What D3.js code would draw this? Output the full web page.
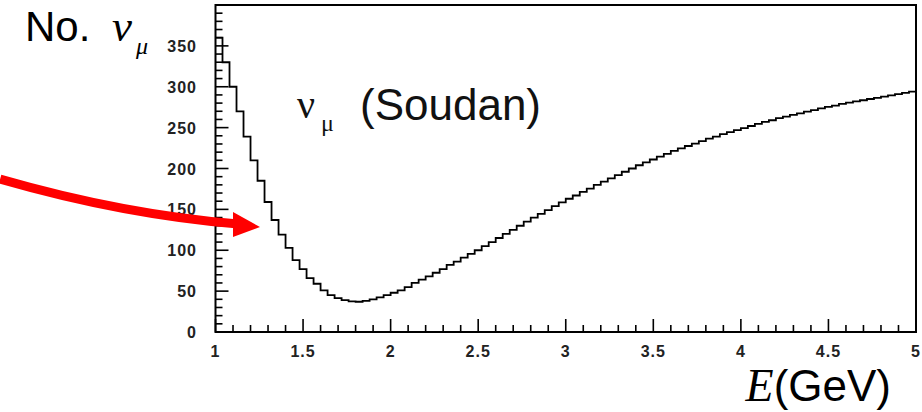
<!DOCTYPE html>
<html><head><meta charset="utf-8">
<script src="https://cdn.jsdelivr.net/npm/d3@7"></script>
<style>html,body{margin:0;padding:0;background:#fff;} svg{display:block}</style>
</head><body><svg id="c" width="922" height="412"></svg>
<script>
// ---- data ----
const binLow = 1.0;
const binWidth = 0.04;
const counts = [
  360,330,300,270,239,210,185,159,137,119,
  103,88,77,66,59,51,45,41.5,39,37.5,
  37,38,40,42.4,45,48,51,55,60,64,
  68,72.5,77,82,86,91,95.5,100,105,110,
  115,120,125,130,135,140,144.5,149,154,158.5,
  163,167,171.5,175.5,180,184,188,192,196,200,
  204,207.5,211,214.5,218,221.5,224.5,227.5,230.5,233.5,
  236.5,239,242,244.5,247,249.5,252,254.5,257,259,
  261.5,263.5,265.5,267.5,269.5,271.5,273.5,275.5,277,279,
  280.5,282,283.5,285,286.5,288,289.5,291,292.5,294
];
const xTickValues = [1,1.5,2,2.5,3,3.5,4,4.5,5];
const xTickLabels = ["1","1.5","2","2.5","3","3.5","4","4.5","5"];
const yTickValues = [0,50,100,150,200,250,300,350];
const yTickLabels = ["0","50","100","150","200","250","300","350"];
// annotation arrow in data units (E, count)
const arrowCurve = [[-0.23,187],[0.11,166],[0.57,142],[1.13,132]];
const arrowHead = [[1.254,128.4],[1.10,146.8],[1.10,116.2]];

// ---- layout ----
const W = 922, H = 412;
const plot = {left:215.5, right:916, top:5, bottom:332};
const x = d3.scaleLinear().domain([1,5]).range([plot.left, plot.right]);
const y = d3.scaleLinear().domain([0,400]).range([plot.bottom, plot.top]);

const svg = d3.select("#c");
svg.append("rect").attr("width",W).attr("height",H).attr("fill","#fff");

// minor + major ticks (inward)
const g = svg.append("g");
const xMinor = d3.range(10,51).map(d=>d/10);
g.selectAll("line.xt").data(xMinor).join("line")
  .attr("x1",d=>x(d)).attr("x2",d=>x(d))
  .attr("y1",plot.bottom)
  .attr("y2",d=> plot.bottom - (Math.abs(d*2-Math.round(d*2))<1e-6 ? 13 : 7))
  .attr("stroke","#000").attr("stroke-width",1.6);
const yMinor = d3.range(0,401,10);
g.selectAll("line.yt").data(yMinor).join("line")
  .attr("y1",d=>y(d)).attr("y2",d=>y(d))
  .attr("x1",plot.left)
  .attr("x2",d=> plot.left + (d%50===0 ? 13 : 7))
  .attr("stroke","#000").attr("stroke-width",1.6);

// tick labels
const lab = {"font-family":"Liberation Sans, Arial, sans-serif","font-weight":"bold","font-size":"16px","fill":"#222"};
const xl = g.selectAll("text.xl").data(xTickValues).join("text")
  .attr("x",d=>x(d)).attr("y",357).attr("text-anchor","middle")
  .style("letter-spacing","1px")
  .text((d,i)=>xTickLabels[i]);
Object.entries(lab).forEach(([k,v])=>xl.attr(k,v));
const yl = g.selectAll("text.yl").data(yTickValues).join("text")
  .attr("x",197).attr("y",d=>y(d)+6).attr("text-anchor","end")
  .style("letter-spacing","1px")
  .text((d,i)=>yTickLabels[i]);
Object.entries(lab).forEach(([k,v])=>yl.attr(k,v));

// histogram
const pts = [];
counts.forEach((c,i)=>{
  const e0 = binLow + i*binWidth, e1 = binLow + (i+1)*binWidth;
  pts.push([e0,c]); pts.push([e1,c]);
});
const line = d3.line().x(d=>x(d[0])).y(d=>y(d[1]));
svg.append("path").attr("d",line(pts)).attr("fill","none")
  .attr("stroke","#000").attr("stroke-width",1.8).attr("stroke-linejoin","miter");

// frame
svg.append("rect").attr("x",plot.left).attr("y",plot.top)
  .attr("width",plot.right-plot.left).attr("height",plot.bottom-plot.top)
  .attr("fill","none").attr("stroke","#000").attr("stroke-width",2);

// red arrow annotation
const p = arrowCurve.map(d=>[x(d[0]),y(d[1])]);
svg.append("path")
  .attr("d",`M${p[0][0]},${p[0][1]} C${p[1][0]},${p[1][1]} ${p[2][0]},${p[2][1]} ${p[3][0]},${p[3][1]}`)
  .attr("fill","none").attr("stroke","#ff0000").attr("stroke-width",9);
svg.append("path")
  .attr("d", d3.line().x(d=>x(d[0])).y(d=>y(d[1]))(arrowHead)+"Z")
  .attr("fill","#ff0000");

// Y title "No. ν_μ"
const yt = svg.append("text").attr("x",25).attr("y",41).attr("fill","#000");
yt.append("tspan").attr("font-family","Liberation Sans, Arial, sans-serif").attr("font-size","42px").text("No. ");
yt.append("tspan").attr("x",112).attr("font-family","Liberation Serif, Times New Roman, serif").attr("font-style","italic").attr("font-size","45px").text("ν");
yt.append("tspan").attr("x",136).attr("y",54).attr("font-family","Liberation Serif, Times New Roman, serif").attr("font-style","italic").attr("font-size","24px").text("μ");

// label inside "ν_μ (Soudan)"
const st = svg.append("text").attr("x",297).attr("y",118).attr("fill","#111");
st.append("tspan").attr("font-family","Liberation Serif, Times New Roman, serif").attr("font-size","40px").text("ν");
st.append("tspan").attr("x",321).attr("y",131).attr("font-family","Liberation Serif, Times New Roman, serif").attr("font-size","24px").text("μ");
st.append("tspan").attr("x",360).attr("y",120).attr("font-family","Liberation Sans, Arial, sans-serif").attr("font-size","44px").text("(Soudan)");

// X title "E(GeV)"
const xt = svg.append("text").attr("x",891).attr("y",401).attr("text-anchor","end").attr("fill","#000");
xt.append("tspan").attr("font-family","Liberation Serif, Times New Roman, serif").attr("font-style","italic").attr("font-size","46px").text("E");
xt.append("tspan").attr("font-family","Liberation Sans, Arial, sans-serif").attr("font-size","44px").text("(GeV)");
</script>
</body></html>
